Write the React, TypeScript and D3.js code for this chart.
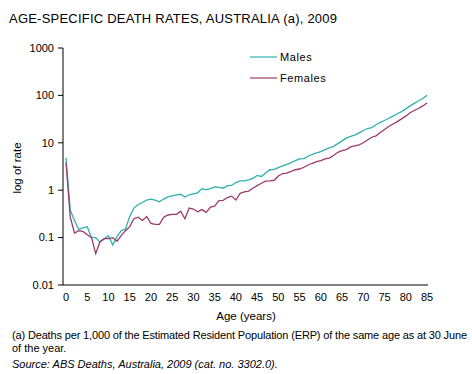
import * as d3 from "d3";

const ages = d3.range(0, 86);

// deaths per 1,000
const males = [
  4.8, 0.38, 0.23, 0.15, 0.16, 0.17, 0.1, 0.1, 0.08, 0.094,
  0.11, 0.07, 0.105, 0.14, 0.15, 0.28, 0.42, 0.5, 0.55, 0.62,
  0.65, 0.62, 0.57, 0.65, 0.72, 0.76, 0.8, 0.82, 0.72, 0.8,
  0.84, 0.88, 1.08, 1.03, 1.08, 1.18, 1.15, 1.1, 1.25, 1.26,
  1.45, 1.58, 1.58, 1.65, 1.77, 2.05, 1.95, 2.3, 2.7, 2.75,
  3.0, 3.25, 3.5, 3.8, 4.2, 4.6, 4.65, 5.2, 5.7, 6.1,
  6.5, 7.2, 7.8, 8.4, 9.6, 11.0, 12.5, 13.6, 14.5, 16.2,
  18.2, 20.0, 21.0, 24.0, 27.0, 29.5, 33.0, 36.5, 41.0, 45.5,
  52.0, 60.0, 68.0, 76.0, 86.0, 101.0,
];

const females = [
  3.8, 0.27, 0.125, 0.14, 0.135, 0.115, 0.1, 0.046, 0.082, 0.095,
  0.095, 0.1, 0.084, 0.11, 0.14, 0.17, 0.25, 0.27, 0.23, 0.28,
  0.2, 0.19, 0.19, 0.27, 0.3, 0.31, 0.31, 0.36, 0.25, 0.42,
  0.4, 0.35, 0.39, 0.34, 0.44, 0.46, 0.6, 0.61, 0.7, 0.75,
  0.62, 0.86, 0.92, 0.96, 1.1, 1.25, 1.4, 1.55, 1.58, 1.62,
  2.0, 2.25, 2.3, 2.5, 2.7, 2.8, 3.05, 3.4, 3.7, 4.0,
  4.2, 4.6, 4.75, 5.4, 6.3, 6.8, 7.2, 8.2, 8.6, 9.0,
  10.0, 11.5, 13.1, 14.0, 16.5, 19.0, 22.0, 25.0, 28.0, 32.0,
  36.5, 43.0, 48.0, 53.0, 60.0, 69.0,
];

const yTicks = [0.01, 0.1, 1, 10, 100, 1000];
const xTicks = d3.range(0, 86, 5);

const series = [
  { name: "Males", values: males, color: "#2fb0ae" },
  { name: "Females", values: females, color: "#9b3a6b" },
];

const font = "Arial, 'Liberation Sans', sans-serif";

export default function App() {
  const x = d3.scaleLinear().domain([0, 85]).range([66, 427]);
  const y = d3.scaleLog().domain([0.01, 1000]).range([285, 48]);

  const line = (vals: number[]) =>
    d3
      .line<number>()
      .x((_, i) => x(ages[i]))
      .y((d) => y(d))(vals) || "";

  return (
    <svg
      width={472}
      height={374}
      style={{ position: "absolute", left: 0, top: 0, background: "#fff" }}
      fontFamily={font}
    >
      <text x={9} y={23} fontSize={13} fill="#000" textLength={328} lengthAdjust="spacing">
        AGE-SPECIFIC  DEATH RATES, AUSTRALIA (a), 2009
      </text>

      {/* y axis */}
      <line x1={63} x2={63} y1={y(1000)} y2={285} stroke="#000" />
      {yTicks.map((t) => (
        <g key={t}>
          <line x1={58} x2={63} y1={y(t)} y2={y(t)} stroke="#000" />
          <text x={54} y={y(t)} dy="0.35em" textAnchor="end" fontSize={11} fill="#000">
            {t}
          </text>
        </g>
      ))}
      <text
        transform="translate(21,168) rotate(-90)"
        textAnchor="middle"
        fontSize={11.5}
        fill="#000"
      >
        log of rate
      </text>

      {/* x axis */}
      <line x1={63} x2={428} y1={285} y2={285} stroke="#000" />
      {xTicks.map((t) => (
        <text key={t} x={x(t)} y={301} textAnchor="middle" fontSize={11} fill="#000">
          {t}
        </text>
      ))}
      <text x={246} y={320} textAnchor="middle" fontSize={11.5} fill="#000">
        Age (years)
      </text>

      {series.map((s) => (
        <path key={s.name} d={line(s.values)} fill="none" stroke={s.color} strokeWidth={1.3} />
      ))}

      {/* legend */}
      {series.map((s, i) => (
        <g key={s.name} transform={`translate(250,${57 + i * 21})`}>
          <line x1={0} x2={27} y1={0} y2={0} stroke={s.color} strokeWidth={1.2} />
          <text x={30} y={4} fontSize={11} letterSpacing={0.6} fill="#000">
            {s.name}
          </text>
        </g>
      ))}

      {/* notes */}
      <text x={12} y={339} fontSize={11} fill="#000" textLength={455} lengthAdjust="spacing">
        (a) Deaths per 1,000 of the Estimated Resident Population (ERP) of the same age as at 30 June
      </text>
      <text x={12} y={352} fontSize={11} fill="#000">
        of the year.
      </text>
      <text x={12} y={368} fontSize={11} fontStyle="italic" fill="#000">
        Source: ABS Deaths, Australia, 2009 (cat. no. 3302.0).
      </text>
    </svg>
  );
}
